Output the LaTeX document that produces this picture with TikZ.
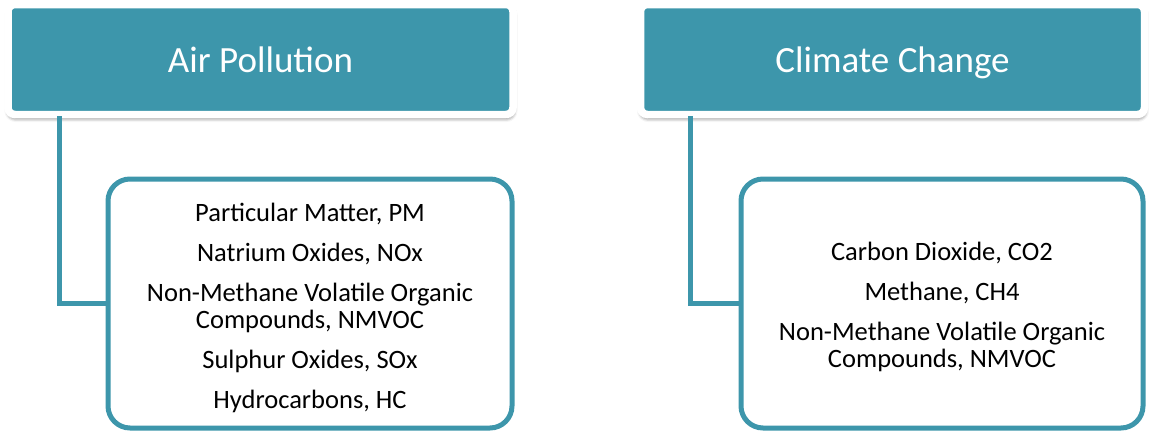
\documentclass[tikz,border=0pt]{standalone}
\usepackage{fontspec}
\setmainfont{Carlito}
\usetikzlibrary{calc,shadows.blur}
\definecolor{tealc}{RGB}{61,150,171}
\tikzset{
  header/.style={draw=white, line width=7.5pt, fill=tealc, rounded corners=7pt,
    inner sep=0pt, outer sep=0pt, text=white, text height=30pt, text depth=5pt,
    font=\fontsize{37}{44}\selectfont,
    blur shadow={shadow xshift=0.5pt, shadow yshift=-3.5pt, shadow blur radius=4pt, shadow opacity=65}},
  listbox/.style={draw=tealc, line width=5pt, fill=white, rounded corners=22pt,
    inner sep=0pt, outer sep=0pt},
  listtext/.style={inner sep=0pt, align=center, font=\fontsize{26.5}{27}\selectfont},
  conn/.style={draw=tealc, line width=5pt}
}
\begin{document}
\begin{tikzpicture}[x=1pt,y=-1pt]
  \useasboundingbox (0,0) rectangle (1149,432);
  % headers
  \node[header, minimum width=505pt, minimum height=110pt] (h1) at (260.5,59.5) {Air Pollution};
  \node[header, minimum width=504pt, minimum height=110pt] (h2) at (892.5,59.5) {Climate Change};
  % list frames
  \node[listbox, minimum width=404pt, minimum height=249pt] (b1) at (310,303.5) {};
  \node[listbox, minimum width=402pt, minimum height=249pt] (b2) at (942,303.5) {};
  % list contents
  \node[listtext] (t1) at ($(b1.center)+(0,4)$)
    {Particular Matter, PM\\[13pt]
     Natrium Oxides, NOx\\[13pt]
     Non-Methane Volatile Organic\\
     Compounds, NMVOC\\[13pt]
     Sulphur Oxides, SOx\\[13pt]
     Hydrocarbons, HC};
  \node[listtext] (t2) at ($(b2.center)+(0,3.5)$)
    {Carbon Dioxide, CO2\\[13pt]
     Methane, CH4\\[13pt]
     Non-Methane Volatile Organic\\
     Compounds, NMVOC};
  % connectors
  \draw[conn] ($(h1.south west)+(51,1.5)$) |- (b1.west);
  \draw[conn] ($(h2.south west)+(50,1.5)$) |- (b2.west);
\end{tikzpicture}
\end{document}
